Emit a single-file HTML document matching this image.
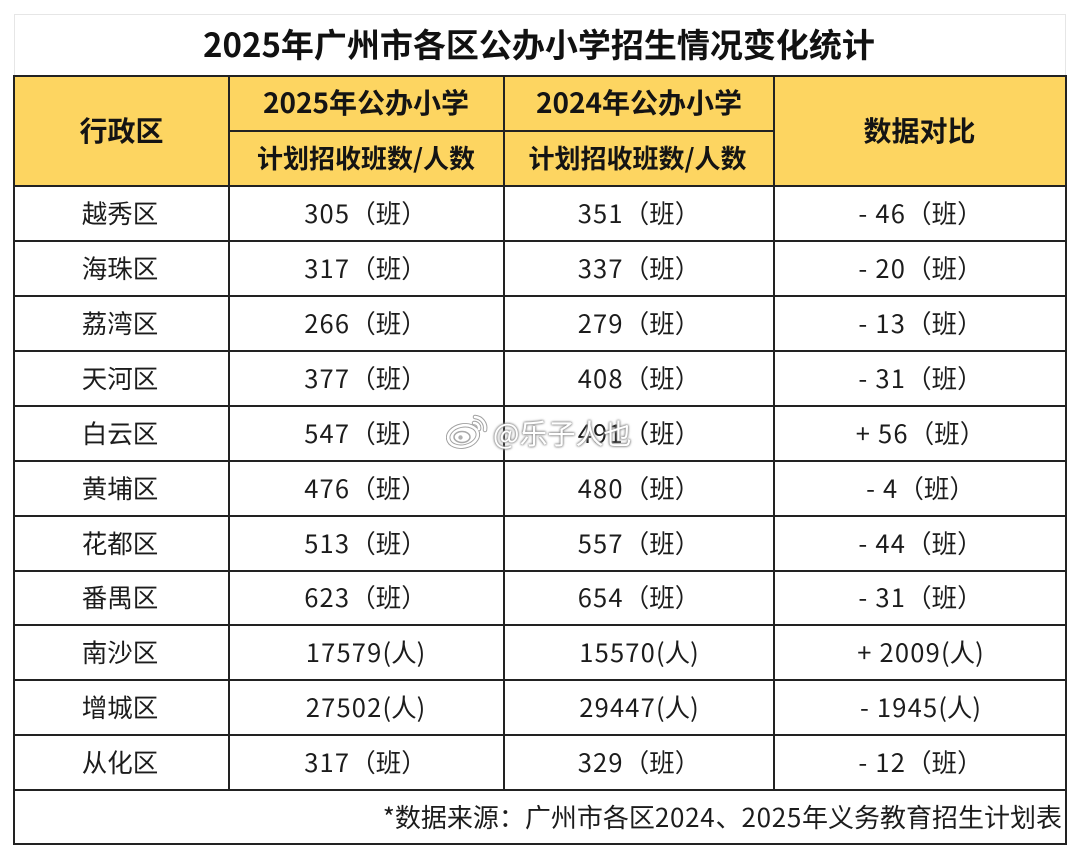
<!DOCTYPE html>
<html lang="zh-CN">
<head>
<meta charset="utf-8">
<title>2025年广州市各区公办小学招生情况变化统计</title>
<style>
html,body{margin:0;padding:0;background:#fff;}
body{position:relative;width:1080px;height:858px;overflow:hidden;font-family:"Noto Sans CJK SC","Liberation Sans",sans-serif;color:#1c1c1c;}
.card{position:absolute;left:14px;top:14px;width:1052px;height:62px;box-sizing:border-box;border:1.5px solid #e6e6e6;border-bottom:none;}
.title{position:absolute;left:13px;top:12px;width:1052px;height:62px;display:flex;align-items:center;justify-content:center;font-size:33px;font-weight:700;color:#111;line-height:1;box-sizing:border-box;}
.fill{position:absolute;background:#fdd561;}
.h{position:absolute;left:13px;width:1054px;height:2px;background:#222;}
.v{position:absolute;width:2px;background:#222;}
.c{position:absolute;display:flex;align-items:center;justify-content:center;line-height:1;white-space:pre;font-size:26px;}
.b{font-weight:700;color:#141414;}
.n{letter-spacing:1.2px;}
.f{letter-spacing:0.7px;}
.c0{left:14px;width:212px;font-size:25.5px;}
.c1{left:229px;width:273px;font-size:25.5px;}
.c2{left:505px;width:268px;font-size:25.5px;}
.c3{left:775.5px;width:290px;font-size:25.5px;}
.r1{top:186px;height:54px}.r2{top:241px;height:54px}.r3{top:296px;height:54px}.r4{top:351px;height:54px}
.r5{top:406px;height:54px}.r6{top:461px;height:54px}.r7{top:516px;height:54px}.r8{top:570px;height:54px}
.r9{top:625px;height:54px}.r10{top:680px;height:54px}.r11{top:735px;height:54px}
.wm{position:absolute;left:493px;top:413px;height:40px;display:flex;align-items:center;font-size:28px;line-height:1;color:#fff;text-shadow:0 0 2px #8a8a8a,0 0 2px #8a8a8a,0 0 3px #aaa;white-space:pre;}
.wi{position:absolute;left:446px;top:412px;}
</style>
</head>
<body>
<div class="card"></div>
<div class="title">2025年广州市各区公办小学招生情况变化统计</div>

<div class="fill" style="left:14px;top:76px;width:1052px;height:110px"></div>

<div class="h" style="top:75px"></div>
<div class="h" style="top:130px;left:229px;width:546px"></div>
<div class="h" style="top:185px"></div>
<div class="h" style="top:240px"></div>
<div class="h" style="top:295px"></div>
<div class="h" style="top:350px"></div>
<div class="h" style="top:405px"></div>
<div class="h" style="top:460px"></div>
<div class="h" style="top:515px"></div>
<div class="h" style="top:570px"></div>
<div class="h" style="top:624px"></div>
<div class="h" style="top:679px"></div>
<div class="h" style="top:734px"></div>
<div class="h" style="top:789px"></div>
<div class="h" style="top:843px"></div>

<div class="v" style="left:13px;top:75px;height:770px"></div>
<div class="v" style="left:228px;top:75px;height:715px"></div>
<div class="v" style="left:503px;top:75px;height:715px"></div>
<div class="v" style="left:773px;top:75px;height:715px"></div>
<div class="v" style="left:1065px;top:75px;height:770px"></div>

<div class="c b" style="left:15.5px;width:212px;top:76px;height:108px;font-size:28px">行政区</div>
<div class="c b" style="left:229.5px;width:273px;top:75px;height:53px;font-size:28px">2025年公办小学</div>
<div class="c b" style="left:229.5px;width:273px;top:131px;height:53px">计划招收班数/人数</div>
<div class="c b" style="left:505px;width:268px;top:75px;height:53px;font-size:28px">2024年公办小学</div>
<div class="c b" style="left:503.5px;width:268px;top:131px;height:53px">计划招收班数/人数</div>
<div class="c b" style="left:774.5px;width:290px;top:76px;height:108px;font-size:28px">数据对比</div>

<div class="c c0 r1">越秀区</div>
<div class="c c1 r1"><span class="n">305</span>（班）</div>
<div class="c c2 r1"><span class="n">351</span>（班）</div>
<div class="c c3 r1"><span class="n">- 46</span>（班）</div>

<div class="c c0 r2">海珠区</div>
<div class="c c1 r2"><span class="n">317</span>（班）</div>
<div class="c c2 r2"><span class="n">337</span>（班）</div>
<div class="c c3 r2"><span class="n">- 20</span>（班）</div>

<div class="c c0 r3">荔湾区</div>
<div class="c c1 r3"><span class="n">266</span>（班）</div>
<div class="c c2 r3"><span class="n">279</span>（班）</div>
<div class="c c3 r3"><span class="n">- 13</span>（班）</div>

<div class="c c0 r4">天河区</div>
<div class="c c1 r4"><span class="n">377</span>（班）</div>
<div class="c c2 r4"><span class="n">408</span>（班）</div>
<div class="c c3 r4"><span class="n">- 31</span>（班）</div>

<div class="c c0 r5">白云区</div>
<div class="c c1 r5"><span class="n">547</span>（班）</div>
<div class="c c2 r5"><span class="n">491</span>（班）</div>
<div class="c c3 r5"><span class="n">+ 56</span>（班）</div>

<div class="c c0 r6">黄埔区</div>
<div class="c c1 r6"><span class="n">476</span>（班）</div>
<div class="c c2 r6"><span class="n">480</span>（班）</div>
<div class="c c3 r6"><span class="n">- 4</span>（班）</div>

<div class="c c0 r7">花都区</div>
<div class="c c1 r7"><span class="n">513</span>（班）</div>
<div class="c c2 r7"><span class="n">557</span>（班）</div>
<div class="c c3 r7"><span class="n">- 44</span>（班）</div>

<div class="c c0 r8">番禺区</div>
<div class="c c1 r8"><span class="n">623</span>（班）</div>
<div class="c c2 r8"><span class="n">654</span>（班）</div>
<div class="c c3 r8"><span class="n">- 31</span>（班）</div>

<div class="c c0 r9">南沙区</div>
<div class="c c1 r9"><span class="n">17579</span>(人)</div>
<div class="c c2 r9"><span class="n">15570</span>(人)</div>
<div class="c c3 r9"><span class="n">+ 2009</span>(人)</div>

<div class="c c0 r10">增城区</div>
<div class="c c1 r10"><span class="n">27502</span>(人)</div>
<div class="c c2 r10"><span class="n">29447</span>(人)</div>
<div class="c c3 r10"><span class="n">- 1945</span>(人)</div>

<div class="c c0 r11">从化区</div>
<div class="c c1 r11"><span class="n">317</span>（班）</div>
<div class="c c2 r11"><span class="n">329</span>（班）</div>
<div class="c c3 r11"><span class="n">- 12</span>（班）</div>

<div class="c" style="left:15px;width:1047px;top:791px;height:52px;justify-content:flex-end">*数据来源：广州市各区<span class="f">2024</span>、<span class="f">2025</span>年义务教育招生计划表</div>

<svg class="wi" width="44" height="38" viewBox="0 0 44 38">
  <g fill="none" stroke="#a0a0a0" stroke-width="4.5" stroke-linecap="round">
    <ellipse cx="17" cy="24" rx="15" ry="10.5" transform="rotate(-12 17 24)"/>
    <path d="M29 5a11 11 0 0 1 10 13"/>
    <path d="M28 11a5 5 0 0 1 5 6"/>
  </g>
  <g fill="none" stroke="#fff" stroke-width="2.6" stroke-linecap="round">
    <ellipse cx="17" cy="24" rx="15" ry="10.5" transform="rotate(-12 17 24)"/>
    <path d="M29 5a11 11 0 0 1 10 13"/>
    <path d="M28 11a5 5 0 0 1 5 6"/>
  </g>
  <ellipse cx="16" cy="25" rx="8" ry="5.5" fill="#fff" stroke="#a8a8a8" stroke-width="1.5"/>
  <circle cx="14.5" cy="25.5" r="2.2" fill="#b0b0b0"/>
</svg>
<div class="wm">@乐子人也</div>
</body>
</html>
